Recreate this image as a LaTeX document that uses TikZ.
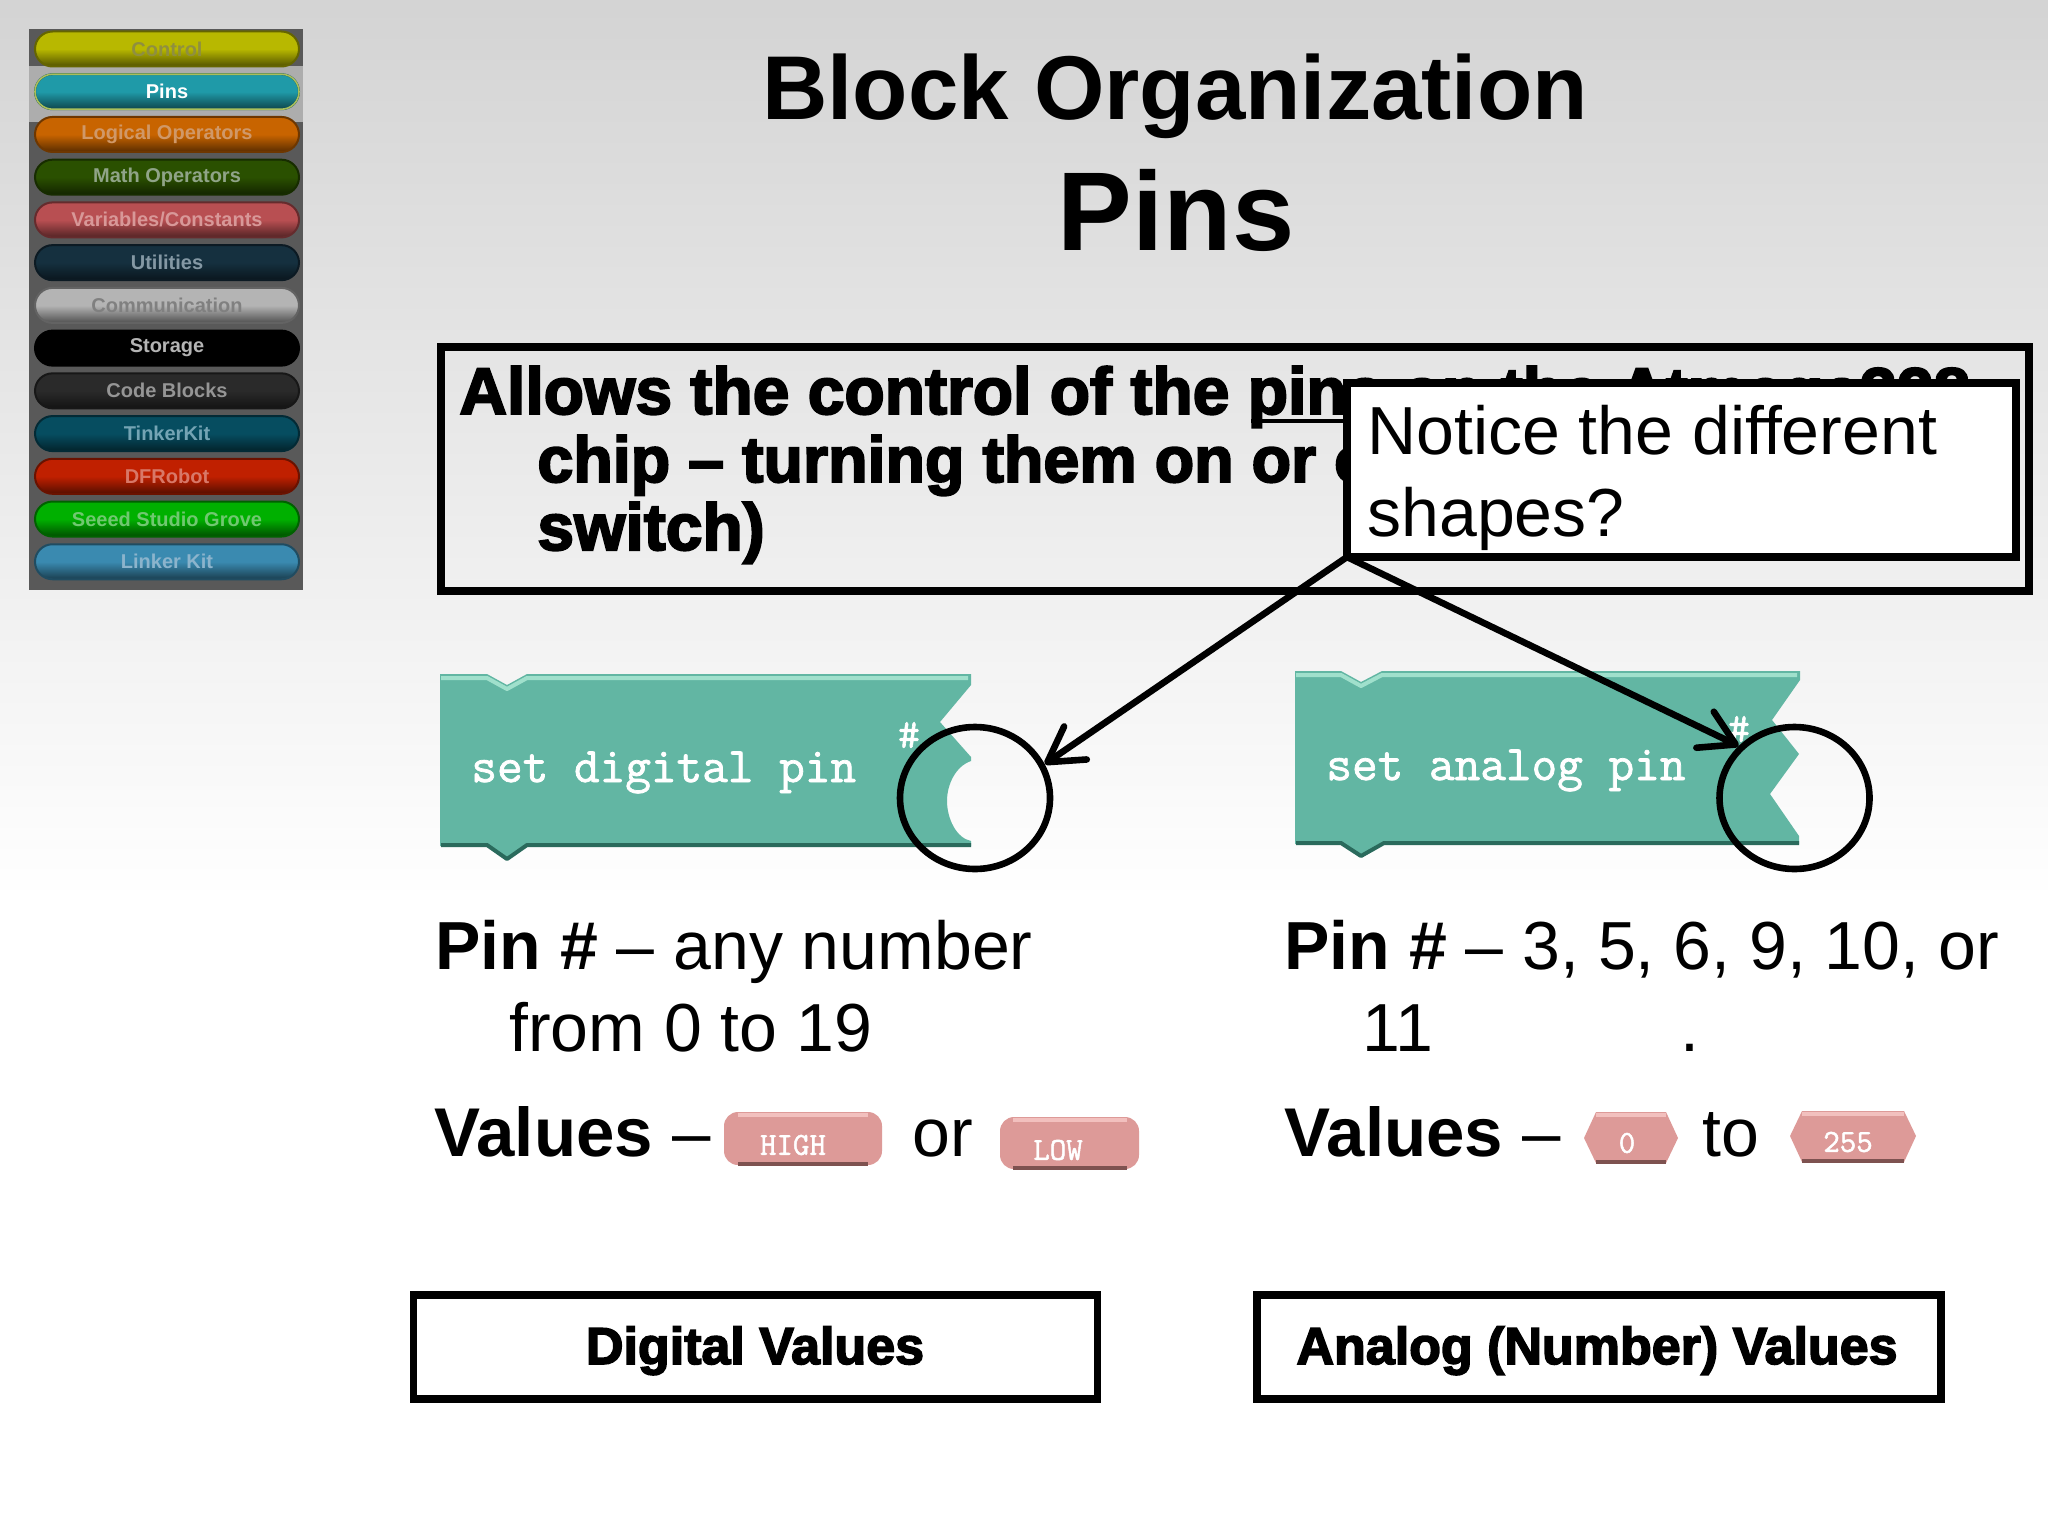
\documentclass[tikz,border=0pt]{standalone}
\usepackage{fontspec}
\setmainfont{Liberation Sans}
\newfontfamily\heavy[BoldFeatures={FakeBold=3}]{Liberation Sans}
\newfontfamily\blockmono[FakeBold=1.5]{Latin Modern Mono}
\usetikzlibrary{arrows.meta,shapes.geometric,shapes.misc}
\definecolor{blockfill}{HTML}{62B6A3}
\definecolor{blocklight}{HTML}{A0E0CC}
\definecolor{blockdark}{HTML}{2A6A5C}
\definecolor{valfill}{HTML}{DD9A98}
\definecolor{vallight}{HTML}{F2C0BE}
\definecolor{valdark}{HTML}{7E5250}
\tikzset{
  txt/.style={inner sep=0pt,anchor=base west,text=black},
  boxline/.style={draw=black,line width=3.6pt,outer sep=0pt},
  ring/.style={draw=black,line width=3.3pt,ellipse,inner sep=0pt,minimum width=75pt,minimum height=71pt},
  pointer/.style={draw=black,line width=3.3pt,-{Straight Barb[length=17pt,width=20pt,line width=3.3pt,round]}},
  blocktext/.style={inner sep=0pt,anchor=base west,text=white,font=\blockmono\fontsize{24.9}{24.9}\selectfont},
  hash/.style={inner sep=0pt,text=white,font=\blockmono\fontsize{21}{21}\selectfont},
  valtext/.style={inner sep=0pt,text=white,font=\blockmono\fontsize{16}{16}\selectfont},
  pillshape/.style={rounded rectangle,inner sep=0pt,minimum width=132pt,minimum height=17.5pt,
     font=\bfseries\fontsize{10}{10}\selectfont},
  bevellight/.style={draw=blocklight,line width=2pt,line join=round},
  beveldark/.style={draw=blockdark,line width=2pt,line join=round},
  vallightline/.style={draw=vallight,line width=2pt},
  valdarkline/.style={draw=valdark,line width=2pt},
}
\begin{document}
\begin{tikzpicture}[x=0.5pt,y=-0.5pt]
\useasboundingbox (0,0) rectangle (2048,1536);
\fill[white] (0,0) rectangle (2048,1536);
\shade[top color=black!17,bottom color=white] (0,0) rectangle (2048,900);

% sidebar
\fill[black!65] (29,29) rectangle (303,590);
\fill[black!32] (29,66) rectangle (303,122);
\foreach \n/\t/\c/\tc [count=\i from 0] in {
  a/Control/B8B800/8F8F40,
  b/Pins/1F9AA8/FFFFFF,
  c/Logical Operators/C86400/D09868,
  d/Math Operators/2A5000/90A488,
  e/Variables\slash Constants/B84F52/D89898,
  f/Utilities/15303F/8498A4,
  g/Communication/B4B4B4/808080,
  h/Storage/000000/B4B4B4,
  i/Code Blocks/2A2A2A/959595,
  j/TinkerKit/064D60/74A4B4,
  k/DFRobot/C02000/D87868,
  l/Seeed Studio Grove/00B000/70C870,
  m/Linker Kit/3A8AB0/8CB4CC}{
  \definecolor{pc}{HTML}{\c}
  \definecolor{ptc}{HTML}{\tc}
  \pgfmathsetmacro{\py}{49+42.73*\i}
  \node[pillshape,draw=pc!55!black,line width=1pt,top color=pc,bottom color=pc!45!black,middle color=pc,text=ptc]
     (pill\n) at (167,\py) {\t};
}
\definecolor{pinsring}{HTML}{AABE5A}
\node[pillshape,draw=pinsring,line width=.8pt] (pillbring) at (pillb.center) {};

% title
\node[txt,anchor=base,font=\bfseries\fontsize{45.3}{45.3}\selectfont] (title1) at (1175,119.5) {Block Organization};
\node[txt,anchor=base,font=\bfseries\fontsize{56}{56}\selectfont] (title2) at (1176,250) {Pins};

% main box
\node[rectangle,boxline,anchor=north west,minimum width=794pt,minimum height=122pt,inner sep=0pt] (mainbox) at (441,347) {};
\node[txt,font=\heavy\bfseries\fontsize{33}{33}\selectfont] (ml1) at (459,414) {Allows the control of the pins on the Atmega328};
\coordinate (ulstart) at (1251,421);
\coordinate (ulend) at (1344,421);
\draw[black,line width=2pt] (ulstart) -- (ulend);
\node[txt,font=\heavy\bfseries\fontsize{32.3}{32.3}\selectfont] (ml2) at (537,482) {chip – turning them on or off (like a};
\node[txt,font=\heavy\bfseries\fontsize{33}{33}\selectfont] (ml3) at (537,550) {switch)};

% block 1
\fill[blockfill] (440,674) -- (487,674) -- (507,685) -- (527,674) -- (971,674) -- (971,685) -- (940,722) -- (971,757) -- (971,761)
   .. controls (956,766) and (947,784) .. (947,801) .. controls (947,818) and (956,838) .. (971,841) -- (971,846)
   -- (527,846) -- (507,860) -- (487,846) -- (440,846) -- cycle;
\draw[bevellight] (441,678) -- (487,678) -- (507,689) -- (527,678) -- (968,678);
\draw[beveldark] (441,845) -- (487,845) -- (507,859) -- (527,845) -- (971,845);
\node[blocktext] (b1t) at (471,782) {set digital pin};
\node[hash] (b1h) at (909,735) {\#};

% block 2
\fill[blockfill] (1295,671) -- (1341,671) -- (1361,682) -- (1382,671) -- (1800,671) -- (1800,680) -- (1772,720) -- (1799,754) -- (1770,794) -- (1799,836) -- (1799,844)
   -- (1384,844) -- (1361,857) -- (1341,844) -- (1295,844) -- cycle;
\draw[bevellight] (1296,675) -- (1341,675) -- (1361,686) -- (1382,675) -- (1797,675);
\draw[beveldark] (1296,843) -- (1341,843) -- (1361,856) -- (1384,843) -- (1799,843);
\node[blocktext] (b2t) at (1326,780) {set analog pin};
\node[hash] (b2h) at (1739,729) {\#};

% rings
\node[ring] (c1) at (975,798) {};
\node[ring] (c2) at (1794.5,798) {};

% callout
\node[rectangle,boxline,fill=white,anchor=north west,minimum width=334.5pt,minimum height=87pt,inner sep=0pt] (callout) at (1347,383) {};
\node[txt,font=\fontsize{34}{34}\selectfont] (cl1) at (1367,454) {Notice the different};
\node[txt,font=\fontsize{34}{34}\selectfont] (cl2) at (1367,536) {shapes?};

% arrows
\draw[pointer] (callout.south west) -- (c1.26);
\draw[pointer] (callout.south west) -- (c2.137);

% left column
\node[txt,font=\fontsize{34}{34}\selectfont] (l1) at (435,969) {\textbf{Pin \#} – any number};
\node[txt,font=\fontsize{34}{34}\selectfont] (l2) at (509,1051) {from 0 to 19};
\node[txt,font=\fontsize{34.5}{34.5}\selectfont] (l3) at (434,1156) {\textbf{Values} –};
\node[txt,font=\fontsize{34}{34}\selectfont] (l4) at (912,1156) {or};

% right column
\node[txt,font=\fontsize{34}{34}\selectfont] (r1) at (1284,969) {\textbf{Pin \#} – 3, 5, 6, 9, 10, or};
\node[txt,font=\fontsize{34}{34}\selectfont] (r2) at (1362,1051) {11};
\node[txt,font=\fontsize{34}{34}\selectfont] (r2b) at (1680,1051) {.};
\node[txt,font=\fontsize{34.5}{34.5}\selectfont] (r3) at (1284,1156) {\textbf{Values} –};
\node[txt,font=\fontsize{34}{34}\selectfont] (r4) at (1702,1156) {to};

% value pills
\fill[valfill,rounded corners=7pt] (724,1112) rectangle (882,1165);
\draw[vallightline] (738,1115) -- (868,1115);
\draw[valdarkline] (738,1164) -- (868,1164);
\node[valtext] (vh) at (793,1145) {HIGH};
\fill[valfill,rounded corners=7pt] (1000,1117) rectangle (1139,1169);
\draw[vallightline] (1013,1120) -- (1127,1120);
\draw[valdarkline] (1013,1168) -- (1127,1168);
\node[valtext] (vl) at (1058,1150) {LOW};
\fill[valfill] (1596,1112) -- (1666,1112) -- (1678,1138) -- (1666,1163) -- (1596,1163) -- (1584,1138) -- cycle;
\draw[vallightline] (1596,1115) -- (1666,1115);
\draw[valdarkline] (1596,1162) -- (1666,1162);
\node[valtext] (v0) at (1627,1143) {0};
\fill[valfill] (1802,1111) -- (1904,1111) -- (1916,1136) -- (1904,1162) -- (1802,1162) -- (1790,1136) -- cycle;
\draw[vallightline] (1802,1114) -- (1904,1114);
\draw[valdarkline] (1802,1161) -- (1904,1161);
\node[valtext] (v255) at (1848,1142) {255};

% bottom boxes
\node[rectangle,boxline,anchor=north west,minimum width=342pt,minimum height=52pt,inner sep=0pt] (dbox) at (413.5,1295) {};
\node[rectangle,boxline,anchor=north west,minimum width=342pt,minimum height=52pt,inner sep=0pt] (abox) at (1257,1295) {};
\node[txt,anchor=base,font=\heavy\bfseries\fontsize{26}{26}\selectfont] (dt) at (755,1364) {Digital Values};
\node[txt,anchor=base,font=\heavy\bfseries\fontsize{26}{26}\selectfont] (at) at (1597,1364) {Analog (Number) Values};
\end{tikzpicture}
\end{document}
